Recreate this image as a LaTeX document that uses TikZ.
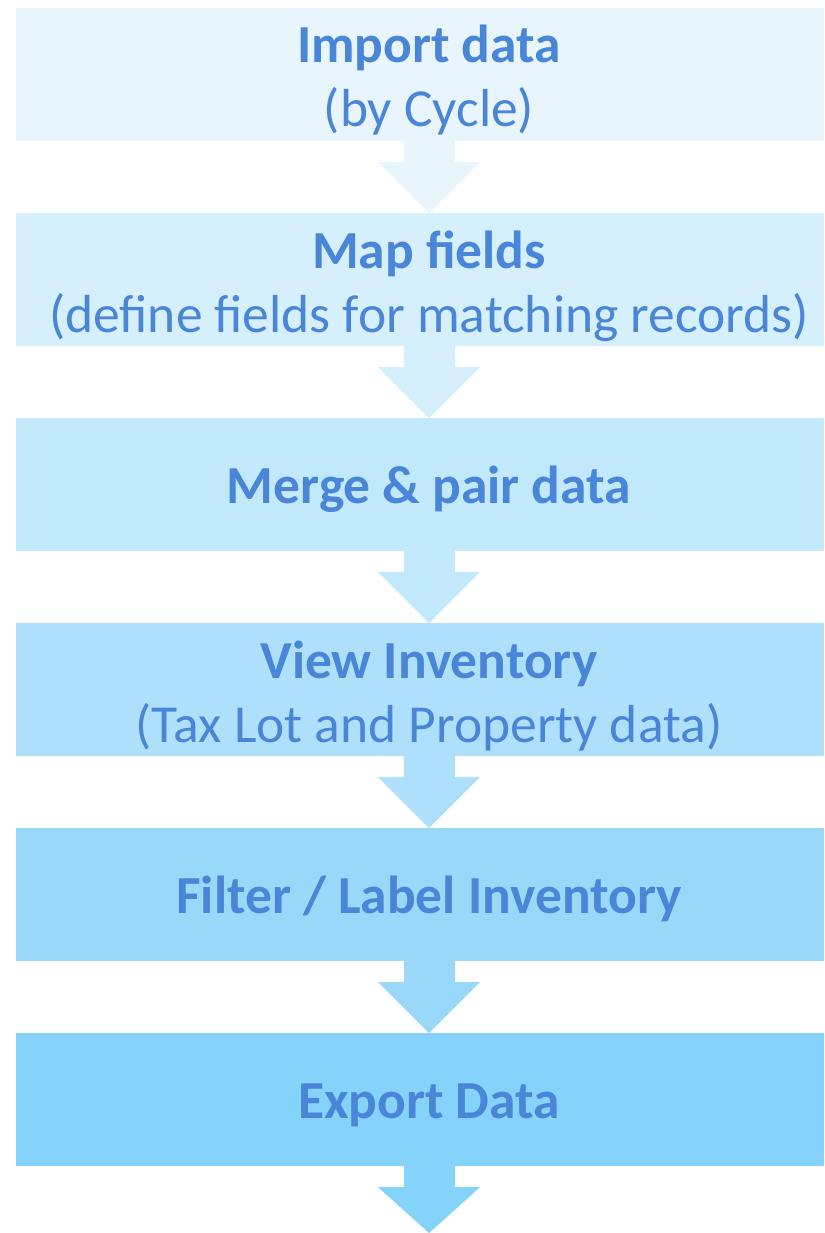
\documentclass[tikz,border=0pt]{standalone}
\usepackage{fontspec}
\setmainfont{Carlito}
\usetikzlibrary{calc}
\definecolor{txt}{HTML}{4A86D8}
\definecolor{cA}{HTML}{E8F5FD}
\definecolor{cB}{HTML}{D5EFFC}
\definecolor{cC}{HTML}{C2E8FB}
\definecolor{cD}{HTML}{AEE0FB}
\definecolor{cE}{HTML}{9AD8FA}
\definecolor{cF}{HTML}{85D2FA}
\tikzset{
  stepbox/.style={rectangle, draw=none, inner sep=0pt, minimum width=808pt, minimum height=133pt},
  lbl/.style={anchor=base, text=txt, inner sep=0pt, font=\fontsize{53.5}{64}\selectfont},
  ttl/.style={lbl, font=\fontsize{53.5}{64}\selectfont\bfseries},
}
\newcommand{\blockarrow}[3]{% from node, to coordinate, colour
  \fill[#3] ($(#1.south)+(-16,0)$) -- ($(#1.south)+(35,0)$) -- ($(#1.south)+(35,-21)$)
    -- ($(#1.south)+(60,-21)$) -- ($(#2)$) -- ($(#1.south)+(-42,-21)$)
    -- ($(#1.south)+(-16,-21)$) -- cycle;
}
\begin{document}
\begin{tikzpicture}[x=1pt,y=1pt]
\useasboundingbox (0,0) rectangle (824,-1233);
% boxes
\node[stepbox, fill=cA] (b1) at (420,-74.5) {};
\node[stepbox, fill=cB] (b2) at (420,-279.5) {};
\node[stepbox, fill=cC] (b3) at (420,-484.5) {};
\node[stepbox, fill=cD] (b4) at (420,-689.5) {};
\node[stepbox, fill=cE] (b5) at (420,-894.5) {};
\node[stepbox, fill=cF] (b6) at (420,-1099.5) {};
\coordinate (p2) at (429,-213);
\coordinate (p3) at (429,-418);
\coordinate (p4) at (429,-623);
\coordinate (p5) at (429,-828);
\coordinate (p6) at (429,-1033);
\coordinate (end) at (429,-1233);
% arrows
\blockarrow{b1}{p2}{cA}
\blockarrow{b2}{p3}{cB}
\blockarrow{b3}{p4}{cC}
\blockarrow{b4}{p5}{cD}
\blockarrow{b5}{p6}{cE}
\blockarrow{b6}{end}{cF}
% texts
\node[ttl] (t1) at (429,-63) {Import data};
\node[lbl] (s1) at (429,-127) {(by Cycle)};
\node[ttl] (t2) at (429,-268) {Map fields};
\node[lbl] (s2) at (429,-332) {(define fields for matching records)};
\node[ttl] (t3) at (429,-503) {Merge \& pair data};
\node[ttl] (t4) at (429,-678) {View Inventory};
\node[lbl] (s4) at (429,-742) {(Tax Lot and Property data)};
\node[ttl] (t5) at (429,-913) {Filter / Label Inventory};
\node[ttl] (t6) at (429,-1118) {Export Data};
\end{tikzpicture}
\end{document}
